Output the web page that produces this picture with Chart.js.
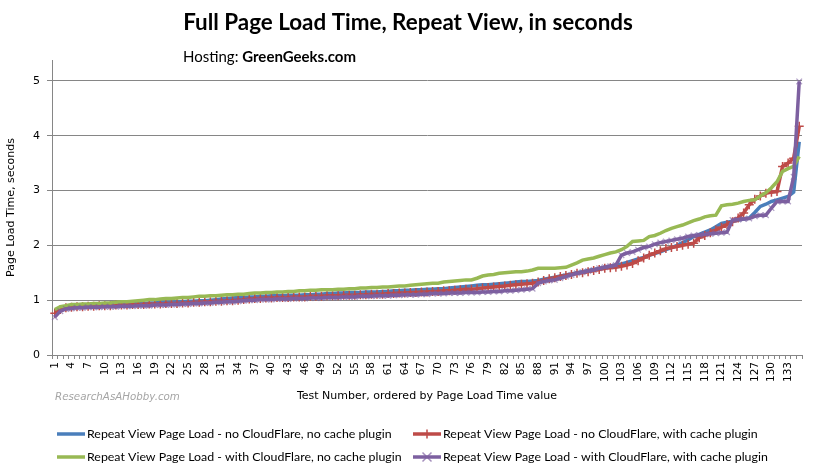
<!DOCTYPE html>
<html>
<head>
<meta charset="utf-8">
<script src="https://cdn.jsdelivr.net/npm/chart.js@4.4.1/dist/chart.umd.min.js"></script>
<style>
  html, body { margin: 0; padding: 0; background: #fff; }
  #wrap { width: 817px; height: 473px; }
</style>
</head>
<body>
<div id="wrap"><canvas id="loadChart" width="817" height="473"></canvas></div>
<script>
// test numbers 1..135 (x categories), every 3rd one gets a label
const testNumbers = [];
for (let n = 1; n <= 135; n++) testNumbers.push(String(n));

const yTicks = [0, 1, 2, 3, 4, 5];

// Repeat View Page Load - no CloudFlare, no cache plugin
const noCfNoCache = [
  0.81, 0.86, 0.88, 0.89, 0.89, 0.90, 0.90, 0.91, 0.91, 0.91,
  0.92, 0.92, 0.93, 0.93, 0.93, 0.94, 0.94, 0.95, 0.95, 0.96,
  0.96, 0.96, 0.97, 0.97, 0.98, 0.98, 0.99, 0.99, 1.00, 1.01,
  1.02, 1.03, 1.04, 1.05, 1.05, 1.06, 1.06, 1.07, 1.07, 1.08,
  1.08, 1.08, 1.09, 1.09, 1.09, 1.10, 1.10, 1.11, 1.11, 1.12,
  1.12, 1.13, 1.13, 1.14, 1.14, 1.14, 1.15, 1.15, 1.15, 1.16,
  1.16, 1.17, 1.17, 1.18, 1.18, 1.19, 1.19, 1.20, 1.20, 1.21,
  1.21, 1.22, 1.23, 1.24, 1.25, 1.26, 1.27, 1.28, 1.28, 1.29,
  1.30, 1.31, 1.32, 1.33, 1.34, 1.34, 1.35, 1.36, 1.38, 1.40,
  1.42, 1.44, 1.46, 1.48, 1.50, 1.52, 1.54, 1.56, 1.58, 1.60,
  1.62, 1.64, 1.66, 1.69, 1.72, 1.75, 1.78, 1.82, 1.85, 1.88,
  1.92, 1.96, 2.00, 2.05, 2.10, 2.16, 2.20, 2.24, 2.28, 2.34,
  2.40, 2.42, 2.44, 2.46, 2.48, 2.50, 2.60, 2.71, 2.75, 2.80,
  2.83, 2.86, 2.89, 2.97, 3.89
];

// Repeat View Page Load - no CloudFlare, with cache plugin
const noCfWithCache = [
  0.76, 0.83, 0.86, 0.87, 0.88, 0.88, 0.89, 0.89, 0.90, 0.90,
  0.90, 0.91, 0.91, 0.91, 0.92, 0.92, 0.92, 0.93, 0.93, 0.93,
  0.94, 0.94, 0.94, 0.95, 0.95, 0.96, 0.96, 0.97, 0.97, 0.98,
  0.98, 0.99, 0.99, 1.00, 1.01, 1.02, 1.03, 1.03, 1.04, 1.04,
  1.05, 1.05, 1.05, 1.06, 1.06, 1.06, 1.07, 1.07, 1.07, 1.08,
  1.08, 1.08, 1.09, 1.09, 1.09, 1.10, 1.10, 1.11, 1.11, 1.11,
  1.12, 1.12, 1.13, 1.13, 1.14, 1.14, 1.15, 1.15, 1.16, 1.16,
  1.17, 1.17, 1.18, 1.19, 1.20, 1.20, 1.21, 1.22, 1.23, 1.24,
  1.25, 1.26, 1.27, 1.28, 1.29, 1.30, 1.31, 1.33, 1.36, 1.39,
  1.41, 1.43, 1.45, 1.47, 1.49, 1.50, 1.52, 1.54, 1.56, 1.58,
  1.59, 1.60, 1.62, 1.64, 1.67, 1.72, 1.77, 1.82, 1.86, 1.90,
  1.94, 1.96, 1.98, 2.00, 2.02, 2.04, 2.14, 2.18, 2.23, 2.28,
  2.33, 2.38, 2.43, 2.50, 2.59, 2.74, 2.84, 2.90, 2.95, 2.97,
  2.98, 3.44, 3.50, 3.59, 4.17
];

// Repeat View Page Load - with CloudFlare, no cache plugin
const cfNoCache = [
  0.83, 0.88, 0.90, 0.92, 0.92, 0.93, 0.93, 0.94, 0.94, 0.95,
  0.95, 0.96, 0.97, 0.97, 0.98, 0.99, 1.00, 1.01, 1.01, 1.02,
  1.03, 1.03, 1.04, 1.05, 1.05, 1.06, 1.07, 1.07, 1.08, 1.08,
  1.09, 1.10, 1.10, 1.11, 1.11, 1.12, 1.13, 1.13, 1.14, 1.14,
  1.15, 1.15, 1.16, 1.16, 1.17, 1.17, 1.18, 1.18, 1.19, 1.19,
  1.19, 1.20, 1.20, 1.21, 1.21, 1.22, 1.22, 1.23, 1.23, 1.24,
  1.24, 1.25, 1.26, 1.26, 1.27, 1.28, 1.29, 1.30, 1.31, 1.31,
  1.33, 1.34, 1.35, 1.36, 1.37, 1.37, 1.40, 1.44, 1.46, 1.47,
  1.49, 1.50, 1.51, 1.52, 1.52, 1.53, 1.55, 1.58, 1.58, 1.58,
  1.58, 1.59, 1.60, 1.64, 1.68, 1.73, 1.75, 1.77, 1.80, 1.83,
  1.86, 1.88, 1.92, 1.98, 2.07, 2.08, 2.09, 2.16, 2.18, 2.22,
  2.27, 2.31, 2.34, 2.37, 2.41, 2.45, 2.48, 2.52, 2.54, 2.55,
  2.72, 2.74, 2.75, 2.77, 2.80, 2.82, 2.83, 2.90, 2.96, 3.05,
  3.16, 3.35, 3.40, 3.44, 3.62
];

// Repeat View Page Load - with CloudFlare, with cache plugin
const cfWithCache = [
  0.69, 0.80, 0.84, 0.85, 0.86, 0.86, 0.87, 0.87, 0.87, 0.88,
  0.88, 0.88, 0.89, 0.89, 0.89, 0.90, 0.90, 0.90, 0.91, 0.91,
  0.91, 0.92, 0.92, 0.93, 0.93, 0.94, 0.94, 0.95, 0.95, 0.96,
  0.96, 0.97, 0.97, 0.98, 0.99, 1.00, 1.00, 1.01, 1.01, 1.01,
  1.02, 1.02, 1.02, 1.03, 1.03, 1.03, 1.04, 1.04, 1.04, 1.05,
  1.05, 1.05, 1.06, 1.06, 1.06, 1.07, 1.07, 1.07, 1.08, 1.08,
  1.08, 1.09, 1.09, 1.10, 1.10, 1.10, 1.11, 1.11, 1.12, 1.12,
  1.12, 1.13, 1.13, 1.13, 1.14, 1.14, 1.14, 1.15, 1.15, 1.16,
  1.16, 1.17, 1.17, 1.18, 1.19, 1.20, 1.21, 1.31, 1.34, 1.36,
  1.37, 1.40, 1.43, 1.46, 1.49, 1.51, 1.53, 1.55, 1.58, 1.60,
  1.62, 1.64, 1.82, 1.86, 1.88, 1.92, 1.96, 1.98, 2.02, 2.05,
  2.07, 2.09, 2.11, 2.13, 2.16, 2.18, 2.19, 2.20, 2.21, 2.22,
  2.23, 2.24, 2.46, 2.47, 2.48, 2.49, 2.53, 2.55, 2.55, 2.68,
  2.80, 2.80, 2.80, 3.25, 4.99
];

const seriesLabels = [
  'Repeat View Page Load - no CloudFlare, no cache plugin',
  'Repeat View Page Load - no CloudFlare, with cache plugin',
  'Repeat View Page Load - with CloudFlare, no cache plugin',
  'Repeat View Page Load - with CloudFlare, with cache plugin'
];

const BLUE = '#4a7ebb';
const RED = '#be4b48';
const GREEN = '#98b954';
const PURPLE = '#7d60a0';
const AXIS_GREY = '#868686';
const TICK_FONT = { family: 'DejaVu Sans', size: 11 };

// pick a font size that makes text come out at a given width
function fitSize(ctx, text, weight, family, width) {
  ctx.font = weight + ' 20px ' + family;
  return 20 * width / ctx.measureText(text).width;
}

function drawMarker(ctx, style, x, y, r, color) {
  ctx.save();
  ctx.strokeStyle = color;
  ctx.lineWidth = 1.5;
  ctx.beginPath();
  if (style === 'cross') {
    ctx.moveTo(x - r, y); ctx.lineTo(x + r, y);
    ctx.moveTo(x, y - r); ctx.lineTo(x, y + r);
  } else {
    ctx.moveTo(x - r, y - r); ctx.lineTo(x + r, y + r);
    ctx.moveTo(x - r, y + r); ctx.lineTo(x + r, y - r);
  }
  ctx.stroke();
  ctx.restore();
}

// titles, watermark and the two-column legend Excel style
const decorPlugin = {
  id: 'decor',
  afterDraw(chart) {
    const ctx = chart.ctx;
    ctx.save();
    ctx.fillStyle = '#000';
    ctx.textBaseline = 'middle';

    const title = 'Full Page Load Time, Repeat View, in seconds';
    const ts = fitSize(ctx, title, 'bold', 'Lato', 450);
    ctx.font = 'bold ' + ts + 'px Lato';
    ctx.textAlign = 'center';
    ctx.fillText(title, 408, 23);

    ctx.textAlign = 'left';
    ctx.font = '15px Lato';
    const hostLabel = 'Hosting: ';
    ctx.fillText(hostLabel, 183, 57);
    const hw = ctx.measureText(hostLabel).width;
    ctx.font = 'bold 15px Lato';
    ctx.fillText('GreenGeeks.com', 183 + hw, 57);

    ctx.fillStyle = '#a5a5a5';
    const wm = 'ResearchAsAHobby.com';
    const ws = fitSize(ctx, wm, 'italic', 'DejaVu Sans', 125);
    ctx.font = 'italic ' + ws + 'px DejaVu Sans';
    ctx.fillText(wm, 55, 397);

    // legend
    const items = [
      { label: seriesLabels[0], color: BLUE, marker: null, col: 0, row: 0 },
      { label: seriesLabels[1], color: RED, marker: 'cross', col: 1, row: 0 },
      { label: seriesLabels[2], color: GREEN, marker: null, col: 0, row: 1 },
      { label: seriesLabels[3], color: PURPLE, marker: 'crossRot', col: 1, row: 1 }
    ];
    const colX = [57, 413];
    const rowY = [434, 457];
    const ls = fitSize(ctx, seriesLabels[0], '', 'Lato', 305);
    items.forEach(it => {
      const x = colX[it.col];
      const y = rowY[it.row];
      ctx.strokeStyle = it.color;
      ctx.lineWidth = 3.5;
      ctx.beginPath();
      ctx.moveTo(x, y);
      ctx.lineTo(x + 28, y);
      ctx.stroke();
      if (it.marker) drawMarker(ctx, it.marker, x + 14, y, 4.5,
        it.marker === 'cross' ? RED : 'rgba(125,96,160,0.7)');
      ctx.fillStyle = '#000';
      ctx.font = ls + 'px Lato';
      ctx.fillText(it.label, x + 30, y);
    });
    ctx.restore();
  }
};

const ctx = document.getElementById('loadChart').getContext('2d');

const loadChart = new Chart(ctx, {
  type: 'line',
  data: {
    labels: testNumbers,
    datasets: [
      {
        label: seriesLabels[0],
        data: noCfNoCache,
        borderColor: BLUE,
        backgroundColor: BLUE,
        borderWidth: 3.5,
        pointRadius: 0,
        order: 3
      },
      {
        label: seriesLabels[1],
        data: noCfWithCache,
        borderColor: RED,
        backgroundColor: RED,
        borderWidth: 3.5,
        pointStyle: 'cross',
        pointRadius: 4.5,
        pointBorderColor: RED,
        pointBorderWidth: 1.5,
        order: 2
      },
      {
        label: seriesLabels[2],
        data: cfNoCache,
        borderColor: GREEN,
        backgroundColor: GREEN,
        borderWidth: 3.5,
        pointRadius: 0,
        order: 1
      },
      {
        label: seriesLabels[3],
        data: cfWithCache,
        borderColor: PURPLE,
        backgroundColor: PURPLE,
        borderWidth: 3.5,
        pointStyle: 'crossRot',
        pointRadius: 4,
        pointBorderColor: 'rgba(125,96,160,0.6)',
        pointBorderWidth: 1.2,
        order: 0
      }
    ]
  },
  options: {
    responsive: false,
    animation: false,
    events: [],
    layout: { padding: { top: 60, right: 15, bottom: 66, left: 0 } },
    plugins: {
      legend: { display: false },
      title: { display: false },
      tooltip: { enabled: false }
    },
    elements: { line: { tension: 0 } },
    scales: {
      x: {
        type: 'category',
        offset: true,
        grid: {
          offset: true,
          drawOnChartArea: false,
          tickLength: 4,
          color: AXIS_GREY
        },
        border: { color: AXIS_GREY, width: 1 },
        ticks: {
          autoSkip: false,
          minRotation: 90,
          maxRotation: 90,
          padding: 3,
          color: '#000',
          font: { family: 'DejaVu Sans', size: 10.5 },
          callback: (v, i) => (i % 3 === 0 ? testNumbers[i] : '')
        },
        title: {
          display: true,
          text: 'Test Number, ordered by Page Load Time value',
          color: '#000',
          font: TICK_FONT,
          padding: { top: 4, bottom: 4 }
        },
        afterFit: scale => { scale.height = 52; }
      },
      y: {
        min: 0,
        max: 5.38,
        afterBuildTicks: axis => {
          axis.ticks = yTicks.map(v => ({ value: v }));
        },
        grid: { color: AXIS_GREY, tickLength: 5 },
        border: { color: AXIS_GREY, width: 1 },
        ticks: {
          padding: 7,
          color: '#000',
          font: TICK_FONT
        },
        title: {
          display: true,
          text: 'Page Load Time, seconds',
          color: '#000',
          font: TICK_FONT,
          padding: { top: 5, bottom: 4 }
        },
        afterFit: scale => { scale.width = 52; }
      }
    }
  },
  plugins: [decorPlugin]
});
</script>
</body>
</html>
